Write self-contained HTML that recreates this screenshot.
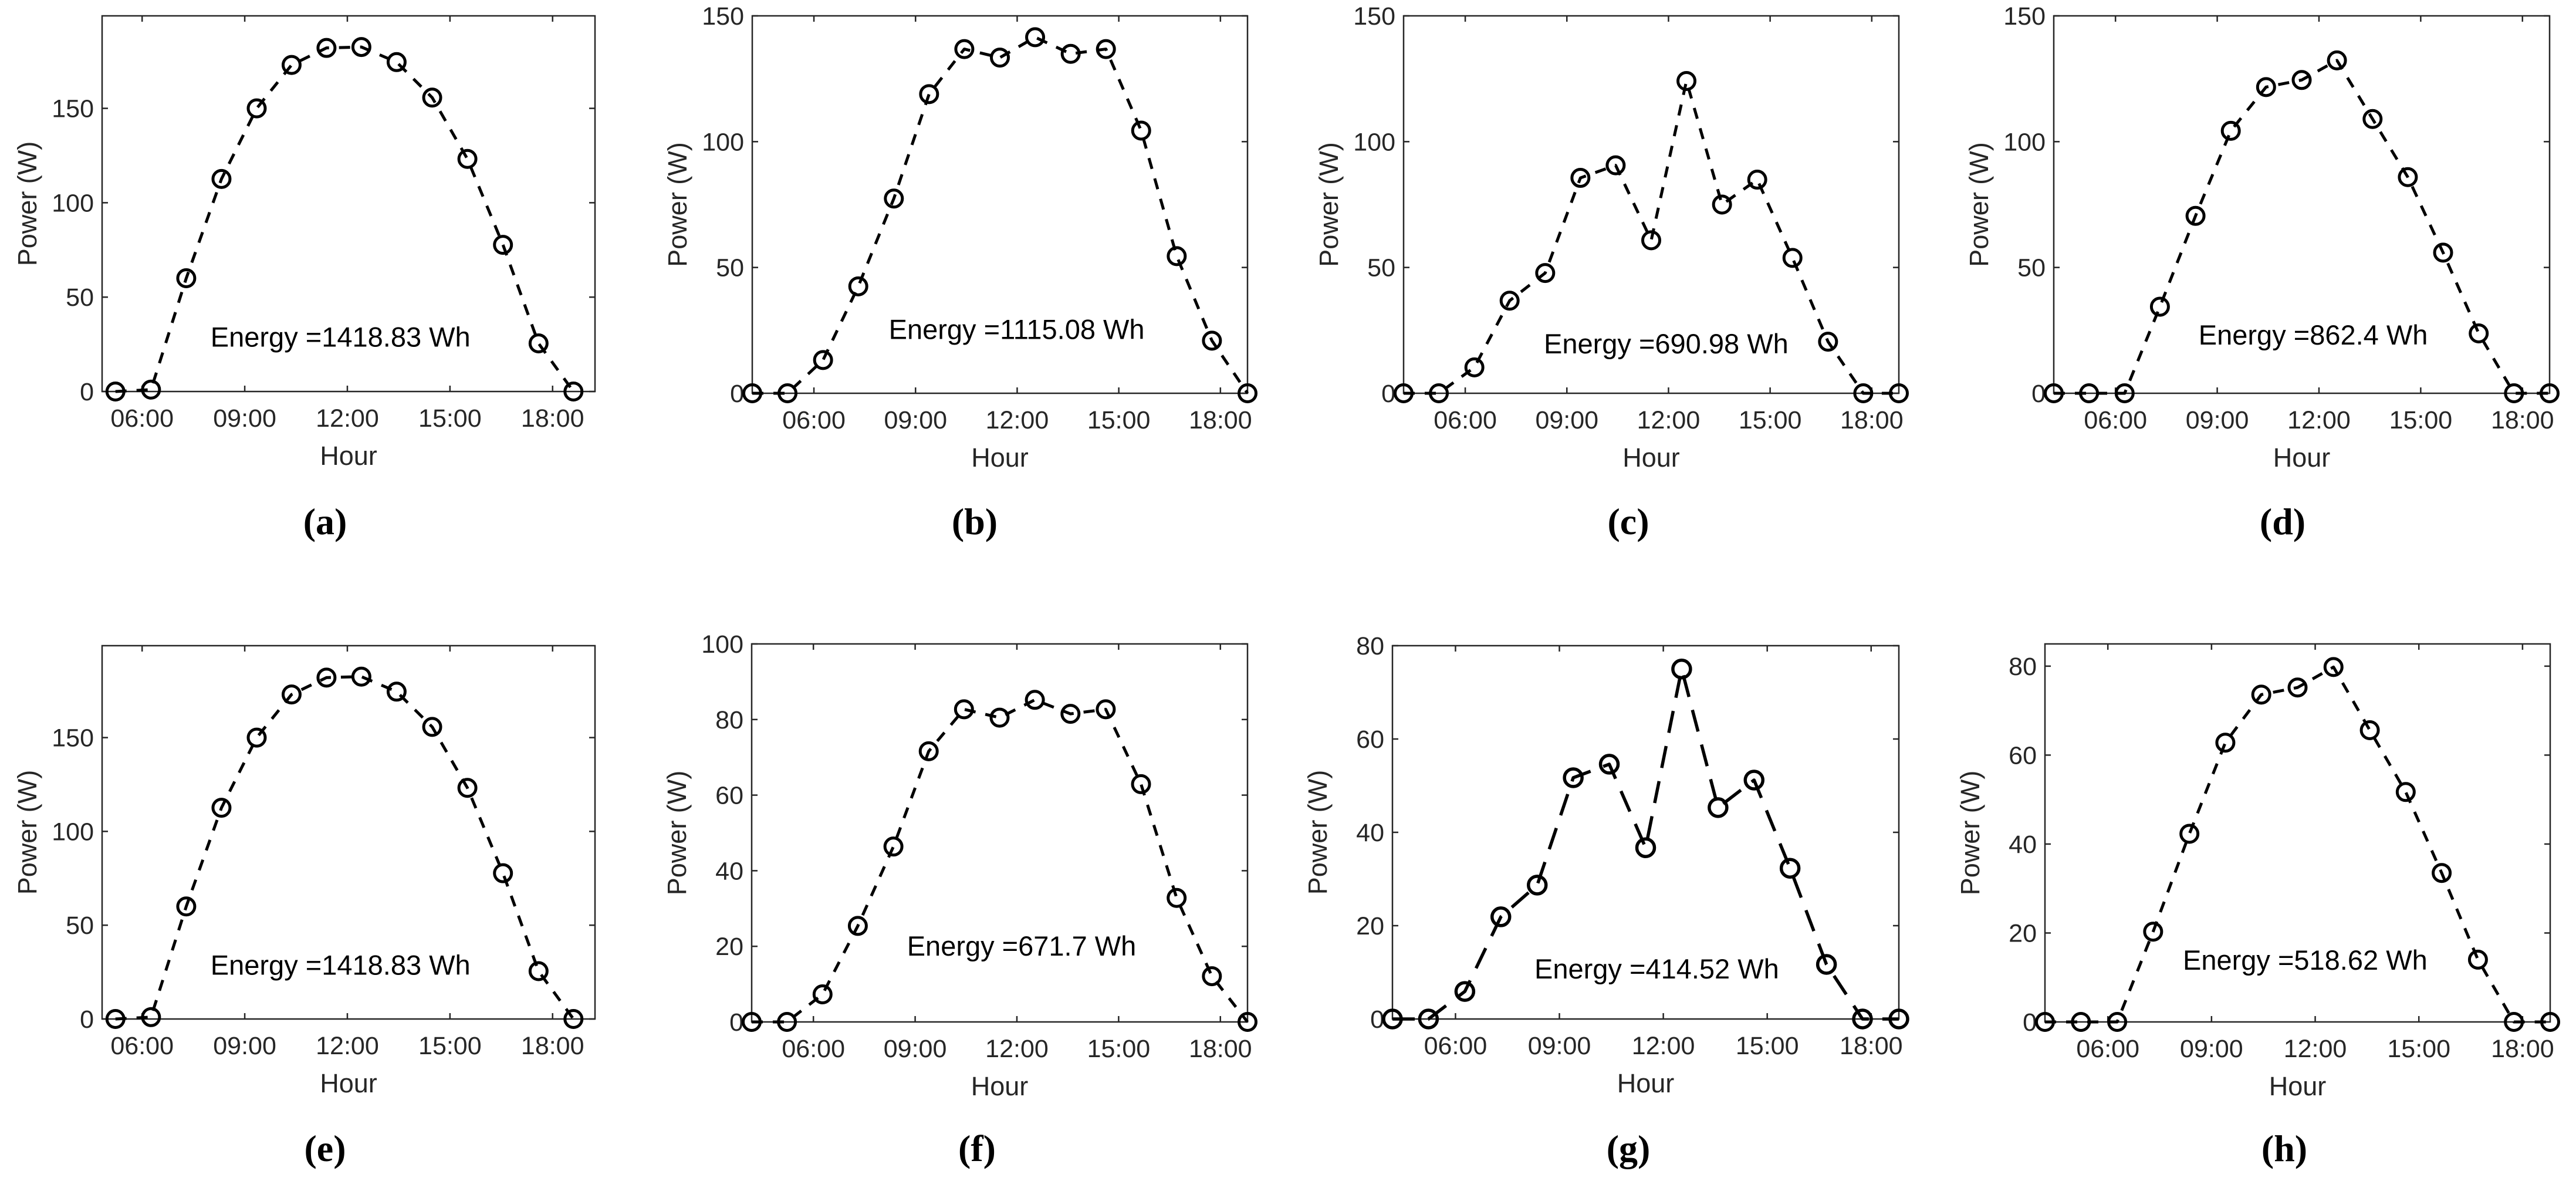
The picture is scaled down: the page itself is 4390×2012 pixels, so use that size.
<!DOCTYPE html>
<html><head><meta charset="utf-8">
<style>
html,body{margin:0;padding:0;background:#fff;}
svg{display:block;}
text{font-family:"Liberation Sans",Arial,sans-serif;}
.cap{font-family:"Liberation Serif","Times New Roman",serif;font-weight:bold;}
</style></head>
<body>
<svg id="fig" width="4390" height="2012" viewBox="0 0 4390 2012" xmlns="http://www.w3.org/2000/svg"></svg>
<script>
// ---- data (hours, watts) ----
const timesA = [5.22,6.26,7.29,8.32,9.35,10.37,11.39,12.41,13.44,14.48,15.51,16.55,17.59,18.61];
const timesB = [4.18,5.22,6.27,7.31,8.36,9.40,10.44,11.49,12.53,13.58,14.62,15.66,16.71,17.75,18.80];
const powerA = [0,1,60,112.6,150,173,182,182.5,174.5,155.7,123.2,77.7,25.5,0];
const powerB = [0,0,13.2,42.5,77.4,118.9,136.8,133.4,141.5,134.9,136.8,104.4,54.5,20.9,0];
const powerC = [0,0,10.3,36.8,47.8,85.6,90.6,60.8,124.1,75,84.9,53.8,20.5,0,0];
const powerD = [0,0,0,34.4,70.5,104.3,121.7,124.5,132.3,109,85.9,55.9,23.8,0,0];
const powerE = [0,1,60,112.6,150,173,182,182.5,174.5,155.7,123.2,77.7,25.5,0];
const powerF = [0,0,7.3,25.4,46.4,71.6,82.7,80.5,85.2,81.5,82.7,62.9,32.8,12.1,0];
const powerG = [0,0,5.9,21.9,28.7,51.7,54.6,36.7,75,45.3,51.2,32.3,11.7,0,0];
const powerH = [0,0,0,20.3,42.3,62.8,73.6,75.2,79.8,65.6,51.7,33.5,14,0,0];
const energyLabels = ["Energy =1418.83 Wh","Energy =1115.08 Wh","Energy =690.98 Wh","Energy =862.4 Wh",
                      "Energy =1418.83 Wh","Energy =671.7 Wh","Energy =414.52 Wh","Energy =518.62 Wh"];
const energyPosX = [8.0,8.21,8.32,8.45,8.0,8.76,8.28,8.17];
const energyPosY = [29,25.5,19.8,23.3,29,20.2,10.8,14];
const yTicks150 = [0,50,100,150];
const yTicks100 = [0,20,40,60,80,100];
const yTicks80 = [0,20,40,60,80];
const xTickVals = [6,9,12,15,18];
const xTickLabels = ["06:00","09:00","12:00","15:00","18:00"];
const captions = ["(a)","(b)","(c)","(d)","(e)","(f)","(g)","(h)"];

const NS = "http://www.w3.org/2000/svg";
const svg = document.getElementById('fig');
function mk(tag, attrs, parent){
  const e = document.createElementNS(NS, tag);
  for (const k in attrs) e.setAttribute(k, attrs[k]);
  (parent||svg).appendChild(e);
  return e;
}

const panels = [
  {x0:174,x1:1014,y0:27,y1:667,t:timesA,p:powerA,xl:[4.83,19.24],yl:[0,199],yt:yTicks150,capX:554,capY:888,thick:false},
  {x0:1282,x1:2126,y0:27,y1:670,t:timesB,p:powerB,xl:[4.18,18.80],yl:[0,150],yt:yTicks150,capX:1661,capY:888,thick:false},
  {x0:2392,x1:3236,y0:27,y1:670,t:timesB,p:powerC,xl:[4.18,18.80],yl:[0,150],yt:yTicks150,capX:2775,capY:888,thick:false},
  {x0:3500,x1:4345,y0:27,y1:670,t:timesB,p:powerD,xl:[4.18,18.80],yl:[0,150],yt:yTicks150,capX:3890,capY:888,thick:false},
  {x0:174,x1:1014,y0:1100,y1:1736,t:timesA,p:powerE,xl:[4.83,19.24],yl:[0,199],yt:yTicks150,capX:554,capY:1956,thick:false},
  {x0:1281,x1:2126,y0:1097,y1:1741,t:timesB,p:powerF,xl:[4.18,18.80],yl:[0,100],yt:yTicks100,capX:1665,capY:1956,thick:false},
  {x0:2373,x1:3236,y0:1100,y1:1736,t:timesB,p:powerG,xl:[4.18,18.80],yl:[0,80],yt:yTicks80,capX:2775,capY:1956,thick:true},
  {x0:3485,x1:4346,y0:1097,y1:1741,t:timesB,p:powerH,xl:[4.18,18.80],yl:[0,85],yt:yTicks80,capX:3893,capY:1956,thick:false}
];
const letters = "abcdefgh";

panels.forEach((P, i) => {
  const g = mk('g', {});
  
  
  const sx = v => P.x0 + (v - P.xl[0]) / (P.xl[1] - P.xl[0]) * (P.x1 - P.x0);
  const sy = v => P.y1 - (v - P.yl[0]) / (P.yl[1] - P.yl[0]) * (P.y1 - P.y0);

  const box = mk('rect', {x:P.x0, y:P.y0, width:P.x1-P.x0, height:P.y1-P.y0, fill:'none', stroke:'#262626', 'stroke-width':2.5}, g);
  
  

  P.yt.forEach(v => {
    const y = sy(v);
    mk('line', {x1:P.x0, y1:y, x2:P.x0+10, y2:y, stroke:'#262626', 'stroke-width':2.5}, g);
    mk('line', {x1:P.x1, y1:y, x2:P.x1-10, y2:y, stroke:'#262626', 'stroke-width':2.5}, g);
    const t = mk('text', {x:P.x0-14, y:y+15, 'font-size':43, fill:'#262626', 'text-anchor':'end'}, g);
    t.textContent = v;
    
    
  });
  xTickVals.forEach((v, k) => {
    const x = sx(v);
    mk('line', {x1:x, y1:P.y1, x2:x, y2:P.y1-10, stroke:'#262626', 'stroke-width':2.5}, g);
    mk('line', {x1:x, y1:P.y0, x2:x, y2:P.y0+10, stroke:'#262626', 'stroke-width':2.5}, g);
    const t = mk('text', {x:x, y:P.y1+60, 'font-size':43, fill:'#262626', 'text-anchor':'middle'}, g);
    t.textContent = xTickLabels[k];
    
    
  });
  const xt = mk('text', {x:(P.x0+P.x1)/2, y:P.y1+125, 'font-size':45, fill:'#262626', 'text-anchor':'middle'}, g);
  xt.textContent = 'Hour';
  
  
  const cy = (P.y0+P.y1)/2, cx = P.x0 - 112;
  const yt = mk('text', {x:cx, y:cy, 'font-size':45, fill:'#262626', 'text-anchor':'middle', transform:`rotate(-90 ${cx} ${cy})`}, g);
  yt.textContent = 'Power (W)';
  
  

  const pts = P.t.map((t, k) => sx(t) + ',' + sy(P.p[k])).join(' ');
  const line = mk('polyline', {points:pts, fill:'none', stroke:'#000', 'stroke-width':P.thick?5.5:5,
    'stroke-dasharray':P.thick?'38 23':'19 17', 'stroke-linejoin':'round'}, g);
  
  
  P.t.forEach((t, k) => {
    const c = mk('circle', {cx:sx(t), cy:sy(P.p[k]), r:P.thick?15:14.5, fill:'none', stroke:'#000', 'stroke-width':P.thick?5.5:5}, g);
    
    
  });

  const et = mk('text', {x:sx(energyPosX[i]), y:sy(energyPosY[i])+17, 'font-size':47, fill:'#000'}, g);
  et.textContent = energyLabels[i];
  
  

  const cap = mk('text', {x:P.capX, y:P.capY+22, 'font-size':64, fill:'#000', 'text-anchor':'middle', class:'cap'}, g);
  cap.textContent = captions[i];
  
  
});
</script>
</body></html>
